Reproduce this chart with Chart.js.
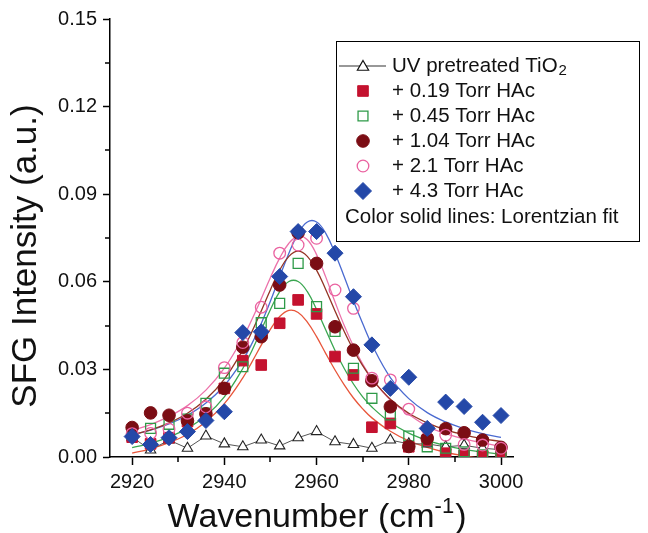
<!DOCTYPE html>
<html><head><meta charset="utf-8">
<script src="https://cdn.jsdelivr.net/npm/chart.js@4.4.0/dist/chart.umd.min.js"></script>
<style>html,body{margin:0;padding:0;background:#fff;}#wrap{width:648px;height:533px;position:relative;}</style>
</head><body><div id="wrap"><canvas id="c" width="648" height="533"></canvas></div>
<script>
// ---- data ----
const wavenumbers = [2920,2924,2928,2932,2936,2940,2944,2948,2952,2956,2960,2964,2968,2972,2976,2980,2984,2988,2992,2996,3000];
const uvPretreated = [0.0068,0.0024,0.0058,0.0030,0.0072,0.0045,0.0035,0.0058,0.0038,0.0066,0.0087,0.0052,0.0043,0.0030,0.0058,0.0045,0.0045,0.0035,0.0040,0.0030,0.0025];
const torr019 = [0.0068,0.0045,0.0066,0.0121,0.0145,0.0235,0.0330,0.0315,0.0458,0.0538,0.0490,0.0344,0.0281,0.0102,0.0115,0.0035,0.0058,0.0013,0.0005,0.0004,0.0003];
const torr045 = [0.0078,0.0098,0.0112,0.0130,0.0184,0.0287,0.0309,0.0460,0.0526,0.0663,0.0515,0.0430,0.0304,0.0201,0.0144,0.0072,0.0035,0.0030,0.0018,0.0007,0.0007];
const torr104 = [0.0101,0.0151,0.0143,0.0124,0.0148,0.0235,0.0376,0.0412,0.0589,0.0768,0.0663,0.0446,0.0366,0.0261,0.0172,0.0036,0.0064,0.0097,0.0083,0.0058,0.0033];
const torr21  = [0.0080,0.0081,0.0095,0.0150,0.0172,0.0306,0.0392,0.0513,0.0698,0.0726,0.0749,0.0572,0.0509,0.0270,0.0264,0.0164,0.0098,0.0075,0.0043,0.0041,0.0030];
const torr43  = [0.0070,0.0043,0.0066,0.0087,0.0125,0.0155,0.0426,0.0429,0.0618,0.0772,0.0772,0.0698,0.0549,0.0384,0.0235,0.0273,0.0098,0.0188,0.0173,0.0119,0.0142];

const fitWavenumbers = [2920,2924,2928,2932,2936,2940,2944,2946,2948,2950,2952,2954,2956,2958,2960,2962,2964,2966,2968,2970,2972,2976,2980,2984,2988,2992,2996,3000];
const fit019 = [0.0013,0.0028,0.0049,0.0078,0.0121,0.0183,0.0271,0.0326,0.0383,0.0438,0.0481,0.0502,0.0495,0.0462,0.0412,0.0354,0.0298,0.0247,0.0202,0.0165,0.0134,0.0088,0.0055,0.0033,0.0016,0.0004,-0.0005,-0.0010];
const fit045 = [0.0032,0.0047,0.0068,0.0098,0.0141,0.0206,0.0303,0.0365,0.0435,0.0505,0.0566,0.0601,0.0601,0.0566,0.0505,0.0435,0.0365,0.0303,0.0250,0.0206,0.0171,0.0118,0.0082,0.0057,0.0039,0.0026,0.0017,0.0009];
const fit104 = [0.0076,0.0093,0.0117,0.0150,0.0198,0.0267,0.0367,0.0430,0.0500,0.0573,0.0640,0.0687,0.0705,0.0687,0.0640,0.0573,0.0500,0.0430,0.0367,0.0313,0.0267,0.0198,0.0150,0.0117,0.0093,0.0076,0.0063,0.0053];
const fit21  = [0.0091,0.0111,0.0139,0.0176,0.0229,0.0304,0.0408,0.0472,0.0542,0.0615,0.0681,0.0732,0.0756,0.0744,0.0693,0.0616,0.0531,0.0450,0.0379,0.0318,0.0269,0.0195,0.0146,0.0105,0.0080,0.0062,0.0048,0.0037];
const fit43  = [0.0076,0.0092,0.0113,0.0143,0.0185,0.0245,0.0332,0.0389,0.0457,0.0534,0.0617,0.0698,0.0766,0.0805,0.0805,0.0766,0.0698,0.0617,0.0534,0.0457,0.0385,0.0272,0.0200,0.0152,0.0120,0.0097,0.0080,0.0067];

const xTicks = [2920,2940,2960,2980,3000];
const xMinorTicks = [2930,2950,2970,2990];
const yTicks = [0,0.03,0.06,0.09,0.12,0.15];
const yMinorTicks = [0.015,0.045,0.075,0.105,0.135];
const legendLabels = ['UV pretreated TiO','+ 0.19 Torr HAc','+ 0.45 Torr HAc','+ 1.04 Torr HAc','+ 2.1 Torr HAc','+ 4.3 Torr HAc','Color solid lines: Lorentzian fit'];
const xTitle = ['Wavenumber (cm', '-1', ')'];
const yTitle = 'SFG Intensity (a.u.)';

// ---- styles ----
const FONT = "'Liberation Sans', Arial, Helvetica, sans-serif";
const C = {
  uv: '#222222', uvLine: '#555555',
  red: '#c4122f', redFit: '#e8553a',
  green: '#2e9a48', greenFit: '#3aa650',
  dred: '#7b0d14', dredFit: '#933424',
  pink: '#ea62a0', pinkFit: '#ec72aa',
  blue: '#2448a8', blueFit: '#4a6ad0'
};
const pts = (xs, ys) => xs.map((x, i) => ({x: x, y: ys[i]}));

function fitSet(ys, color) {
  return {data: pts(fitWavenumbers, ys), showLine: true, borderColor: color, borderWidth: 1.3,
    pointRadius: 0, pointHoverRadius: 0, tension: 0.4, fill: false, order: 10};
}
function markSet(ys, style, r, fillC, strokeC, bw, order) {
  return {data: pts(wavenumbers, ys), showLine: false, pointStyle: style, pointRadius: r, pointHoverRadius: r,
    pointBackgroundColor: fillC, pointBorderColor: strokeC, pointBorderWidth: bw, order: order};
}

const datasets = [
  fitSet(fit019, C.redFit), fitSet(fit045, C.greenFit), fitSet(fit104, C.dredFit),
  fitSet(fit21, C.pinkFit), fitSet(fit43, C.blueFit),
  Object.assign(markSet(uvPretreated, 'triangle', 6, '#ffffff', C.uv, 1.1, 6), {showLine: true, borderColor: C.uvLine, borderWidth: 1, tension: 0}),
  markSet(torr019, 'rect', 7.5, C.red, C.red, 1, 5),
  markSet(torr045, 'rect', 7, 'rgba(0,0,0,0)', C.green, 1.3, 4),
  markSet(torr104, 'circle', 6.3, C.dred, C.dred, 1, 3),
  markSet(torr21, 'circle', 5.8, 'rgba(0,0,0,0)', C.pink, 1.3, 2),
  markSet(torr43, 'rectRot', 8, C.blue, C.blue, 1, 1)
];

function drawMarker(ctx, style, x, y, r, fillC, strokeC, bw) {
  ctx.save();
  ctx.beginPath();
  if (style === 'rect') { const s = Math.SQRT1_2 * r; ctx.rect(x - s, y - s, 2 * s, 2 * s); }
  else if (style === 'circle') { ctx.arc(x, y, r, 0, Math.PI * 2); }
  else if (style === 'rectRot') { ctx.moveTo(x - r, y); ctx.lineTo(x, y - r); ctx.lineTo(x + r, y); ctx.lineTo(x, y + r); ctx.closePath(); }
  else if (style === 'triangle') {
    for (let k = 0; k < 3; k++) { const a = k * 2 * Math.PI / 3; const px = x + Math.sin(a) * r, py = y - Math.cos(a) * r; k ? ctx.lineTo(px, py) : ctx.moveTo(px, py); }
    ctx.closePath();
  }
  ctx.fillStyle = fillC; ctx.fill();
  ctx.lineWidth = bw; ctx.strokeStyle = strokeC; ctx.stroke();
  ctx.restore();
}

const extras = {
  id: 'extras',
  afterDraw(chart) {
    const ctx = chart.ctx, xs = chart.scales.x, ys = chart.scales.y;
    const ca = chart.chartArea;
    ctx.save();
    // minor ticks
    ctx.strokeStyle = '#000'; ctx.lineWidth = 1.5;
    xMinorTicks.forEach(v => { const p = Math.round(xs.getPixelForValue(v)); ctx.beginPath(); ctx.moveTo(p, ca.bottom); ctx.lineTo(p, ca.bottom + 5); ctx.stroke(); });
    yMinorTicks.forEach(v => { const p = Math.round(ys.getPixelForValue(v)); ctx.beginPath(); ctx.moveTo(ca.left - 5, p); ctx.lineTo(ca.left, p); ctx.stroke(); });
    // y title
    ctx.save();
    ctx.translate(26, 256); ctx.rotate(-Math.PI / 2);
    ctx.font = '35px ' + FONT; ctx.fillStyle = '#111'; ctx.textAlign = 'center'; ctx.textBaseline = 'middle';
    ctx.fillText(yTitle, 0, 0);
    ctx.restore();
    // x title with superscript
    ctx.fillStyle = '#111'; ctx.textBaseline = 'alphabetic'; ctx.textAlign = 'left';
    const big = '34px ' + FONT, small = '22px ' + FONT;
    ctx.font = big; const w1 = ctx.measureText(xTitle[0]).width; const w3 = ctx.measureText(xTitle[2]).width;
    ctx.font = small; const w2 = ctx.measureText(xTitle[1]).width;
    let tx = 317 - (w1 + w2 + w3 + 1) / 2; const ty = 527;
    ctx.font = big; ctx.fillText(xTitle[0], tx, ty); tx += w1;
    ctx.font = small; ctx.fillText(xTitle[1], tx, ty - 14); tx += w2 + 1;
    ctx.font = big; ctx.fillText(xTitle[2], tx, ty);
    // legend box
    const bx = 336, by = 41, bw = 303, bh = 200;
    ctx.fillStyle = '#fff'; ctx.fillRect(bx, by, bw, bh);
    ctx.strokeStyle = '#000'; ctx.lineWidth = 1; ctx.strokeRect(bx + 0.5, by + 0.5, bw, bh);
    const mx = 363, tx0 = 392, rows = [66, 91, 116, 141, 166, 191];
    ctx.font = '20.5px ' + FONT; ctx.textBaseline = 'middle'; ctx.fillStyle = '#111';
    // row 0
    ctx.strokeStyle = '#333'; ctx.lineWidth = 1.2; ctx.beginPath(); ctx.moveTo(339, rows[0]); ctx.lineTo(386, rows[0]); ctx.stroke();
    drawMarker(ctx, 'triangle', mx, rows[0] + 1, 6.5, '#fff', '#111', 1.2);
    ctx.fillStyle = '#111'; ctx.font = '20.5px ' + FONT; ctx.fillText(legendLabels[0], tx0, rows[0]);
    const lw0 = ctx.measureText(legendLabels[0]).width;
    ctx.font = '15px ' + FONT; ctx.fillText('2', tx0 + lw0 + 1, rows[0] + 5);
    const lm = [['rect', 7.5, C.red, C.red, 1], ['rect', 7, '#fff', C.green, 1.3], ['circle', 6.3, C.dred, C.dred, 1], ['circle', 5.8, '#fff', C.pink, 1.3], ['rectRot', 8.5, C.blue, C.blue, 1]];
    lm.forEach((m, i) => {
      drawMarker(ctx, m[0], mx, rows[i + 1], m[1], m[2], m[3], m[4]);
      ctx.fillStyle = '#111'; ctx.font = '20.5px ' + FONT; ctx.fillText(legendLabels[i + 1], tx0, rows[i + 1]);
    });
    ctx.fillText(legendLabels[6], 345, 217);
    ctx.restore();
  }
};

Chart.defaults.font.family = FONT;
Chart.defaults.color = '#111';

new Chart(document.getElementById('c'), {
  type: 'scatter',
  data: {datasets: datasets},
  options: {
    responsive: false, animation: false, devicePixelRatio: 1,
    layout: {padding: {top: 19, right: 135, left: 0, bottom: 0}},
    plugins: {legend: {display: false}, tooltip: {enabled: false}},
    scales: {
      x: {
        type: 'linear', min: 2915.2, max: 3002.6,
        afterBuildTicks: s => { s.ticks = xTicks.map(v => ({value: v})); },
        afterFit: s => { s.height = 76; },
        ticks: {callback: v => String(v), font: {size: 20}, color: '#111', padding: 5, maxRotation: 0},
        grid: {display: true, drawOnChartArea: false, drawTicks: true, tickLength: 8, tickWidth: 1.5, tickColor: '#000'},
        border: {display: true, color: '#000', width: 1.5}
      },
      y: {
        type: 'linear', min: 0, max: 0.15,
        afterBuildTicks: s => { s.ticks = yTicks.map(v => ({value: v})); },
        afterFit: s => { s.width = 110; },
        ticks: {callback: v => Number(v).toFixed(2), font: {size: 20}, color: '#111', padding: 6},
        grid: {display: true, drawOnChartArea: false, drawTicks: true, tickLength: 7, tickWidth: 1.5, tickColor: '#000'},
        border: {display: true, color: '#000', width: 1.5}
      }
    }
  },
  plugins: [extras]
});
</script></body></html>
